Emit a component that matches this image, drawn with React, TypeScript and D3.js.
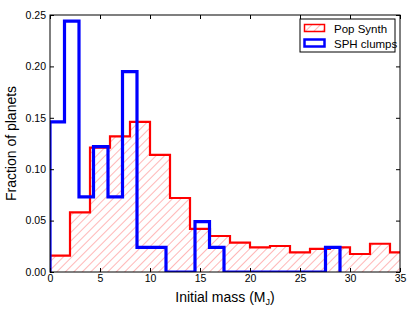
import React, { useEffect, useRef } from "react";
import * as d3 from "d3";

// Pop Synth histogram, bins of width 2 starting at 0
const popBinWidth = 2;
const popSynth = [
  0.016, 0.058, 0.121, 0.132, 0.146, 0.114, 0.072, 0.042, 0.035, 0.0285,
  0.024, 0.0253, 0.019, 0.0224, 0.024, 0.0175, 0.0275, 0.019,
];

// SPH clumps histogram, bins of width 1.45 starting at 0
const sphBinWidth = 1.45;
const sphClumps = [
  0.146, 0.244, 0.073, 0.122, 0.073, 0.195, 0.024, 0.024, 0, 0, 0.049, 0.024,
  0, 0, 0, 0, 0, 0, 0, 0.024,
];

const xTicks = [0, 5, 10, 15, 20, 25, 30, 35];
const yTicks = [0, 0.05, 0.1, 0.15, 0.2, 0.25];
const legendLabels = ["Pop Synth", "SPH clumps"];

const App = () => {
  const svgRef = useRef<SVGSVGElement>(null);

  useEffect(() => {
    const W = 415;
    const H = 312;
    const margin = { top: 15, right: 15, bottom: 40, left: 50 };
    const width = W - margin.left - margin.right;
    const height = H - margin.top - margin.bottom;
    const font = "'Liberation Sans', Arial, sans-serif";

    const x = d3.scaleLinear().domain([0, 35]).range([0, width]);
    const y = d3.scaleLinear().domain([0, 0.25]).range([height, 0]);

    const svg = d3.select(svgRef.current);
    svg.selectAll("*").remove();

    const defs = svg.append("defs");
    defs
      .append("clipPath")
      .attr("id", "plotclip")
      .append("rect")
      .attr("width", width)
      .attr("height", height);

    const pat = defs
      .append("pattern")
      .attr("id", "hatch")
      .attr("patternUnits", "userSpaceOnUse")
      .attr("width", 6)
      .attr("height", 6)
      .attr("patternTransform", "rotate(45)");
    pat
      .append("line")
      .attr("x1", 0)
      .attr("y1", 0)
      .attr("x2", 0)
      .attr("y2", 6)
      .attr("stroke", "#ff7070")
      .attr("stroke-width", 1);

    const g = svg
      .append("g")
      .attr("transform", `translate(${margin.left},${margin.top})`);

    // step outline of a histogram
    const stepPoints = (vals: number[], bw: number) => {
      const pts: [number, number][] = [[0, 0]];
      vals.forEach((v, i) => {
        pts.push([i * bw, v]);
        pts.push([(i + 1) * bw, v]);
      });
      pts.push([vals.length * bw, 0]);
      return pts;
    };

    const line = d3
      .line<[number, number]>()
      .x((d) => x(d[0]))
      .y((d) => y(d[1]));

    const plot = g.append("g").attr("clip-path", "url(#plotclip)");

    const popPts = stepPoints(popSynth, popBinWidth);
    plot
      .append("path")
      .attr("d", line(popPts) + "Z")
      .attr("fill", "url(#hatch)")
      .attr("stroke", "none");
    plot
      .append("path")
      .attr("d", line(popPts))
      .attr("fill", "none")
      .attr("stroke", "#ff0000")
      .attr("stroke-width", 2.2);

    plot
      .append("path")
      .attr("d", line(stepPoints(sphClumps, sphBinWidth)))
      .attr("fill", "none")
      .attr("stroke", "#0000ff")
      .attr("stroke-width", 3.2);

    // frame
    g.append("rect")
      .attr("width", width)
      .attr("height", height)
      .attr("fill", "none")
      .attr("stroke", "#000")
      .attr("stroke-width", 1);

    // axes with inward ticks on all sides
    const axB = g
      .append("g")
      .attr("transform", `translate(0,${height})`)
      .call(d3.axisBottom(x).tickValues(xTicks).tickSizeInner(-4).tickSizeOuter(0).tickPadding(3));
    const axT = g
      .append("g")
      .call(d3.axisTop(x).tickValues(xTicks).tickSizeInner(-4).tickSizeOuter(0).tickFormat(() => ""));
    const axL = g
      .append("g")
      .call(
        d3
          .axisLeft(y)
          .tickValues(yTicks)
          .tickSizeInner(-4)
          .tickSizeOuter(0)
          .tickPadding(4)
          .tickFormat(d3.format(".2f"))
      );
    const axR = g
      .append("g")
      .attr("transform", `translate(${width},0)`)
      .call(d3.axisRight(y).tickValues(yTicks).tickSizeInner(-4).tickSizeOuter(0).tickFormat(() => ""));

    [axB, axT, axL, axR].forEach((a) => {
      a.select(".domain").remove();
      a.selectAll("line").attr("stroke", "#000");
      a.selectAll("text")
        .attr("font-family", font)
        .attr("font-size", 10.5)
        .attr("fill", "#000");
    });

    // axis labels
    const xl = g
      .append("text")
      .attr("x", width / 2)
      .attr("y", height + 30)
      .attr("text-anchor", "middle")
      .attr("font-family", font)
      .attr("font-size", 14)
      .text("Initial mass (M");
    xl.append("tspan").attr("font-size", 9).attr("dy", 3).text("J");
    xl.append("tspan").attr("dy", -3).text(")");

    g.append("text")
      .attr("transform", `translate(${-34},${height / 2}) rotate(-90)`)
      .attr("text-anchor", "middle")
      .attr("font-family", font)
      .attr("font-size", 14)
      .text("Fraction of planets");

    // legend
    const lg = g.append("g").attr("transform", `translate(${width - 100},${4})`);
    lg.append("rect")
      .attr("width", 95)
      .attr("height", 33)
      .attr("fill", "#fff")
      .attr("stroke", "#000")
      .attr("stroke-width", 1);
    const swatches = [
      { fill: "url(#hatch)", stroke: "#ff0000", sw: 1.5 },
      { fill: "#fff", stroke: "#0000ff", sw: 2.5 },
    ];
    legendLabels.forEach((lab, i) => {
      const yy = 5 + i * 15;
      lg.append("rect")
        .attr("x", 4.5)
        .attr("y", yy + 0.5)
        .attr("width", 20)
        .attr("height", 7)
        .attr("fill", swatches[i].fill)
        .attr("stroke", swatches[i].stroke)
        .attr("stroke-width", swatches[i].sw);
      lg.append("text")
        .attr("x", 34)
        .attr("y", yy + 8.5)
        .attr("font-family", font)
        .attr("font-size", 11.5)
        .text(lab);
    });
  }, []);

  return (
    <div style={{ position: "fixed", left: 0, top: 0 }}>
      <svg ref={svgRef} width={415} height={312} style={{ display: "block", background: "#fff" }} />
    </div>
  );
};

export default App;
